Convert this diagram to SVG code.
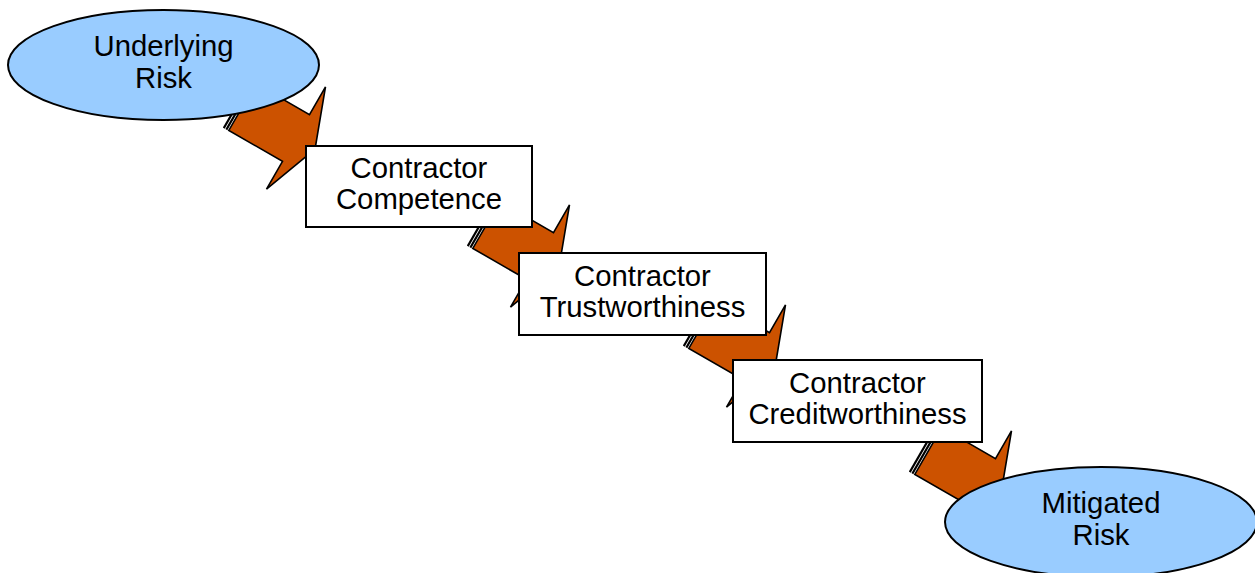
<svg xmlns="http://www.w3.org/2000/svg" xmlns:xlink="http://www.w3.org/1999/xlink" width="1255" height="573" viewBox="0 0 1255 573">
  <style>
    .risk { fill: #99ccff; stroke: #000; stroke-width: 2; }
    .step { fill: #fff; stroke: #000; stroke-width: 2; }
    .arrow { fill: #cc5200; stroke: #000; stroke-width: 1.6; stroke-linejoin: miter; }
    .stripe { fill: #cc5200; stroke: #000; stroke-width: 1.1; }
    .label { font-family: "Liberation Sans", Arial, sans-serif; font-size: 29.3px; fill: #000; text-anchor: middle; }
  </style>
  <defs>
    <!-- striped block arrow; origin at centre of the head base, pointing along +x -->
    <g id="striped-arrow">
      <rect class="stripe" x="-68" y="-27" width="1" height="54"/>
      <rect class="stripe" x="-65" y="-27" width="1" height="54"/>
      <polygon class="arrow" points="-62,-27 0,-27 0,-59 22,0 0,59 0,27 -62,27"/>
    </g>
  </defs>

  <g id="connectors">
    <use xlink:href="#striped-arrow" transform="translate(296,138) rotate(30)"/>
    <use xlink:href="#striped-arrow" transform="translate(540,256) rotate(30)"/>
    <use xlink:href="#striped-arrow" transform="translate(756,356) rotate(30)"/>
    <use xlink:href="#striped-arrow" transform="translate(982,482) rotate(30)"/>
  </g>

  <g id="underlying-risk">
    <ellipse class="risk" cx="163.5" cy="65" rx="155.5" ry="55"/>
    <text class="label" x="163.5" y="56">Underlying</text>
    <text class="label" x="163.5" y="88">Risk</text>
  </g>

  <g id="contractor-competence">
    <rect class="step" x="306" y="146" width="226" height="81"/>
    <text class="label" x="419" y="178">Contractor</text>
    <text class="label" x="419" y="209">Competence</text>
  </g>

  <g id="contractor-trustworthiness">
    <rect class="step" x="519" y="253" width="247" height="82"/>
    <text class="label" x="642.5" y="285.5">Contractor</text>
    <text class="label" x="642.5" y="316.5">Trustworthiness</text>
  </g>

  <g id="contractor-creditworthiness">
    <rect class="step" x="733" y="360" width="249" height="82"/>
    <text class="label" x="857.5" y="392.5">Contractor</text>
    <text class="label" x="857.5" y="423.5">Creditworthiness</text>
  </g>

  <g id="mitigated-risk">
    <ellipse class="risk" cx="1101" cy="522" rx="156" ry="55"/>
    <text class="label" x="1101" y="513">Mitigated</text>
    <text class="label" x="1101" y="545">Risk</text>
  </g>
</svg>
